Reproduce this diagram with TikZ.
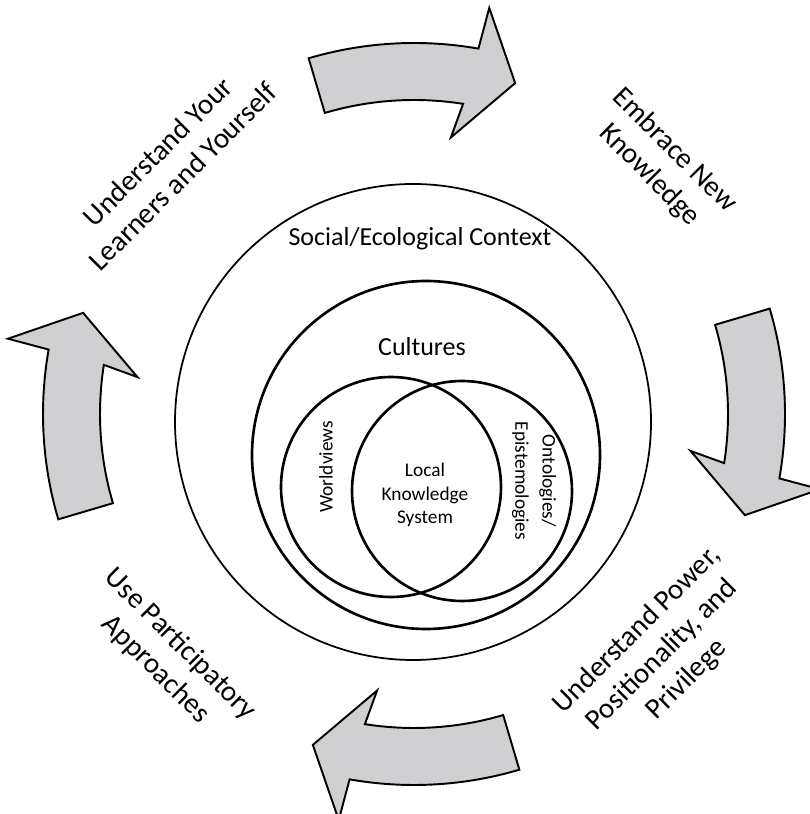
\documentclass[tikz,border=0pt]{standalone}
\usepackage{fontspec}
\setmainfont{Carlito}
\usetikzlibrary{positioning}
\definecolor{arrowgray}{RGB}{208,207,210}

\begin{document}
\begin{tikzpicture}[x=0.02cm, y=0.02cm, thick,
  band/.style={draw, fill=arrowgray, line width=1.1pt, line join=miter},
  step label/.style={font=\fontsize{16.5}{20}\selectfont, align=center},
  ring label/.style={font=\fontsize{14.8}{18}\selectfont, anchor=base},
  venn label/.style={font=\fontsize{11}{13.5}\selectfont, align=center}]

  \useasboundingbox (0,0) rectangle (809,814);

  % four bent arrows round the circles
  \foreach \r in {0,-90,-180,-270}
    \draw[band, shift={(414,400)}, rotate=\r]
      (106.5:371) arc[start angle=106.5, end angle=80, radius=371]
      -- (79.5:413) -- (73:346) -- (82.4:279) -- (81:314)
      arc[start angle=81, end angle=106.5, radius=314] -- cycle;

  % nested circles
  \draw[line width=1pt] (413,392) circle[radius=238];
  \draw[line width=1.5pt] (426,359) circle[radius=174];
  \draw[line width=1.5pt] (391,327) circle[radius=110];
  \draw[line width=1.5pt] (462,323) circle[radius=110];

  \node[ring label] (context) at (420,568) {Social/Ecological Context};
  \node[ring label] (cultures) at (422,458) {Cultures};
  \node[venn label] (lks) at (425,319) {Local\\Knowledge\\System};
  \node[venn label, rotate=90] (world) at (326,347) {Worldviews};
  \node[venn label, rotate=-90] (onto) at (534,333) {Ontologies/\\[2pt]Epistemologies};

  \node[step label, rotate=45] (learners) at (170,650) {Understand Your\\Learners and Yourself};
  \node[step label, rotate=-45] (embrace) at (662,651) {Embrace New\\Knowledge};
  \node[step label, rotate=45] (power) at (662,159) {Understand Power,\\Positionality, and\\Privilege};
  \node[step label, rotate=-45] (particip) at (168,157) {Use Participatory\\Approaches};

\end{tikzpicture}
\end{document}
